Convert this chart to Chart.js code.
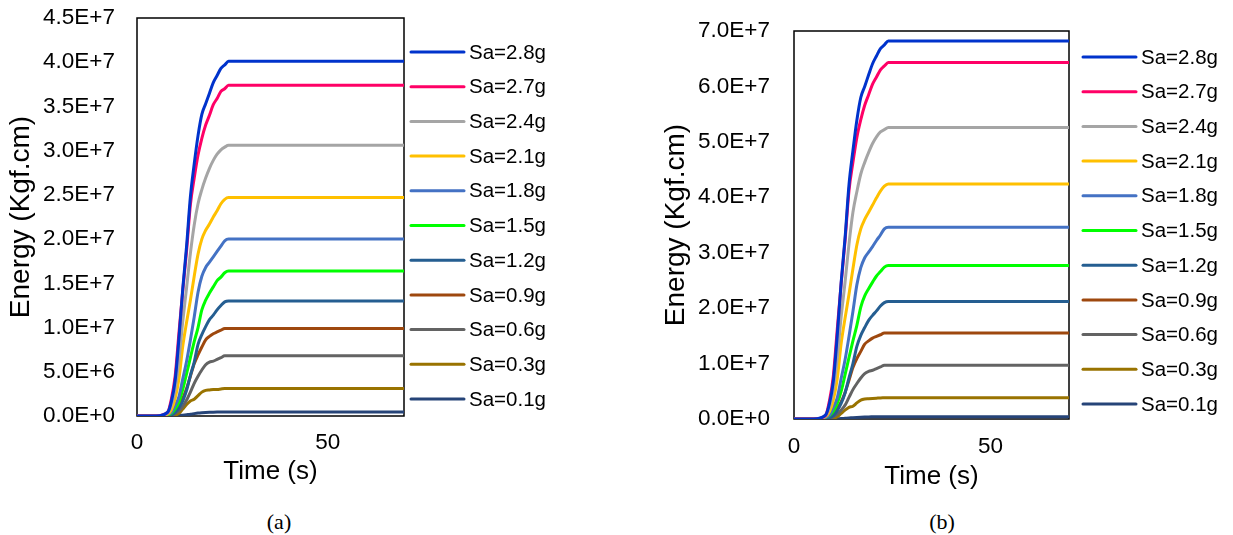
<!DOCTYPE html>
<html>
<head>
<meta charset="utf-8">
<script src="https://cdn.jsdelivr.net/npm/chart.js@4/dist/chart.umd.min.js"></script>
<style>
  body { margin: 0; background: #fff; width: 1233px; height: 535px; overflow: hidden; position: relative; }
  .box { position: absolute; top: 0; }
  #boxA { left: 0; width: 560px; height: 500px; }
  #boxB { left: 655px; width: 578px; height: 505px; }
  .cap { position: absolute; font-family: "Liberation Serif", "Times New Roman", serif; font-size: 22px; transform: translate(-50%, -50%); }
</style>
</head>
<body>
<div class="box" id="boxA"><canvas id="chartA"></canvas></div>
<div class="box" id="boxB"><canvas id="chartB"></canvas></div>
<div class="cap" style="left:279px; top:522px;">(a)</div>
<div class="cap" style="left:942px; top:522px;">(b)</div>
<script>
// time (s)
const time = [0, 5, 8, 9, 10, 11, 12, 13, 14, 15, 16, 17, 18, 19, 20, 21, 22, 23, 24, 70];

const labels = ["Sa=2.8g", "Sa=2.7g", "Sa=2.4g", "Sa=2.1g", "Sa=1.8g", "Sa=1.5g",
                "Sa=1.2g", "Sa=0.9g", "Sa=0.6g", "Sa=0.3g", "Sa=0.1g"];
const colors = ["#0033cc", "#ff0066", "#a5a5a5", "#ffc000", "#4472c4", "#00ff00",
                "#255e91", "#9e480e", "#636363", "#997300", "#264478"];

// energy, in millions of Kgf.cm -- chart (a)
const a28 = [0, 0, 0.4, 1.6, 4.0, 8.8, 14.4, 19.2, 24.8, 28.5, 31.7, 34.1, 35.3, 36.5, 37.7, 38.5, 39.3, 39.7, 40.1, 40.1];
const a27 = [0, 0, 0.4, 1.9, 4.5, 9.4, 14.2, 18.7, 23.9, 26.9, 29.5, 31.4, 32.9, 34.0, 35.2, 35.9, 36.7, 37.0, 37.4, 37.4];
const a24 = [0, 0, 0.3, 1.2, 3.0, 6.4, 10.7, 14.5, 18.4, 21.6, 24.0, 25.6, 26.9, 28.0, 28.9, 29.6, 30.1, 30.4, 30.6, 30.6];
const a21 = [0, 0, 0.2, 0.7, 2.0, 4.2, 7.9, 10.6, 13.1, 15.8, 18.3, 20.0, 21.0, 21.7, 22.5, 23.2, 24.0, 24.5, 24.7, 24.7];
const a18 = [0, 0, 0.2, 0.4, 1.2, 2.2, 4.2, 6.2, 8.6, 11.2, 14.0, 15.8, 16.8, 17.4, 18.0, 18.6, 19.2, 19.8, 20.0, 20.0];
const a15 = [0, 0, 0.1, 0.3, 0.8, 1.6, 3.0, 4.8, 6.6, 8.4, 10.0, 12.0, 13.1, 13.9, 14.6, 15.3, 15.7, 16.2, 16.4, 16.4];
const a12 = [0, 0, 0, 0.1, 0.4, 0.9, 1.7, 2.9, 4.6, 6.1, 8.1, 9.2, 10.1, 10.9, 11.4, 12.0, 12.5, 12.9, 13.0, 13.0];
const a09 = [0, 0, 0, 0.2, 0.6, 1.2, 2.0, 3.1, 4.5, 5.9, 6.9, 7.8, 8.6, 9.0, 9.3, 9.5, 9.7, 9.9, 9.9, 9.9];
const a06 = [0, 0, 0, 0.1, 0.3, 0.6, 1.1, 1.8, 2.7, 3.7, 4.5, 5.2, 5.8, 6.1, 6.2, 6.4, 6.6, 6.8, 6.8, 6.8];
const a03 = [0, 0, 0, 0.03, 0.1, 0.3, 0.8, 1.3, 1.7, 1.9, 2.3, 2.7, 2.9, 2.95, 3.0, 3.0, 3.05, 3.1, 3.1, 3.1];
const a01 = [0, 0, 0, 0, 0.02, 0.05, 0.1, 0.15, 0.2, 0.27, 0.33, 0.37, 0.4, 0.42, 0.43, 0.44, 0.45, 0.45, 0.45, 0.45];

// chart (b)
const b28 = [0, 0, 0.7, 2.7, 6.8, 15.0, 24.6, 32.7, 42.3, 48.4, 53.9, 58.0, 60.0, 62.1, 64.1, 65.5, 66.8, 67.5, 68.2, 68.2];
const b27 = [0, 0, 0.6, 3.2, 7.7, 16.1, 24.4, 32.2, 41.2, 46.3, 50.8, 54.0, 56.6, 58.5, 60.4, 61.7, 63.0, 63.7, 64.3, 64.3];
const b24 = [0, 0, 0.5, 2.1, 5.3, 11.0, 18.4, 24.7, 31.6, 37.3, 41.0, 44.2, 46.3, 48.1, 49.7, 50.9, 51.8, 52.2, 52.6, 52.6];
const b21 = [0, 0, 0.4, 1.3, 3.4, 7.2, 13.6, 18.2, 22.5, 27.1, 31.4, 34.3, 36.0, 37.3, 38.6, 39.9, 41.1, 42.0, 42.4, 42.4];
const b18 = [0, 0, 0.3, 0.7, 2.1, 3.8, 7.3, 10.7, 14.9, 19.4, 24.2, 27.3, 29.1, 30.1, 31.1, 32.2, 33.2, 34.3, 34.6, 34.6];
const b15 = [0, 0, 0.3, 0.6, 1.4, 2.8, 5.0, 8.0, 11.1, 14.1, 16.9, 20.2, 22.2, 23.5, 24.7, 25.8, 26.6, 27.4, 27.7, 27.7];
const b12 = [0, 0, 0, 0.2, 0.6, 1.5, 2.8, 4.7, 7.4, 10.0, 13.1, 15.1, 16.5, 17.8, 18.7, 19.5, 20.4, 21.0, 21.2, 21.2];
const b09 = [0, 0, 0, 0.3, 0.9, 1.9, 3.1, 4.8, 7.0, 9.3, 10.9, 12.2, 13.5, 14.1, 14.6, 14.9, 15.2, 15.5, 15.5, 15.5];
const b06 = [0, 0, 0, 0.1, 0.4, 0.9, 1.6, 2.5, 3.9, 5.3, 6.4, 7.4, 8.2, 8.6, 8.8, 9.1, 9.4, 9.7, 9.7, 9.7];
const b03 = [0, 0, 0, 0.04, 0.1, 0.4, 1.0, 1.6, 2.1, 2.3, 2.9, 3.4, 3.6, 3.65, 3.7, 3.75, 3.8, 3.82, 3.85, 3.85];
const b01 = [0, 0, 0, 0, 0.02, 0.04, 0.08, 0.13, 0.18, 0.24, 0.29, 0.33, 0.36, 0.38, 0.39, 0.4, 0.4, 0.4, 0.4, 0.4];

const seriesA = [a28, a27, a24, a21, a18, a15, a12, a09, a06, a03, a01];
const seriesB = [b28, b27, b24, b21, b18, b15, b12, b09, b06, b03, b01];

Chart.defaults.font.family = '"Liberation Sans", Arial, sans-serif';
Chart.defaults.color = "#000";

// black box round the plot area
const framePlugin = {
  id: "frame",
  beforeDatasetsDraw(chart) {
    const { ctx, chartArea: c } = chart;
    ctx.save();
    ctx.strokeStyle = "#000";
    ctx.lineWidth = 1.5;
    ctx.strokeRect(c.left, c.top, c.right - c.left, c.bottom - c.top);
    ctx.restore();
  },
};

// legend on the right, line + label
const sideLegend = {
  id: "sideLegend",
  afterDraw(chart, args, opts) {
    const { ctx, chartArea } = chart;
    ctx.save();
    ctx.font = '20.5px "Liberation Sans", Arial, sans-serif';
    ctx.textBaseline = "middle";
    ctx.fillStyle = "#000";
    chart.data.datasets.forEach((ds, i) => {
      const x = chartArea.right + opts.dx;
      const y = opts.top + i * opts.gap;
      ctx.strokeStyle = ds.borderColor;
      ctx.lineWidth = 3;
      ctx.lineCap = "round";
      ctx.beginPath();
      ctx.moveTo(x, y);
      ctx.lineTo(x + 53, y);
      ctx.stroke();
      ctx.fillText(ds.label, x + 58, y + 1);
    });
    ctx.restore();
  },
};

function makeChart(id, series, cfg) {
  return new Chart(document.getElementById(id), {
    type: "line",
    data: {
      datasets: series.map((vals, i) => ({
        label: labels[i],
        data: time.map((t, k) => ({ x: t, y: vals[k] })),
        borderColor: colors[i],
        backgroundColor: colors[i],
        borderWidth: 3,
        pointRadius: 0,
        cubicInterpolationMode: "monotone",
      })).reverse(),
    },
    options: {
      responsive: true,
      maintainAspectRatio: false,
      animation: false,
      layout: { padding: { top: cfg.padTop, right: cfg.padRight, left: 0, bottom: 0 } },
      plugins: {
        legend: { display: false },
        tooltip: { enabled: false },
        sideLegend: cfg.legend,
      },
      scales: {
        x: {
          type: "linear",
          min: 0,
          max: 70,
          grid: { display: false, drawTicks: false },
          border: { display: false },
          ticks: { stepSize: 50, includeBounds: false, padding: cfg.xPad, font: { size: 22.5 } },
          title: { display: true, text: "Time (s)", font: { size: 26 }, padding: { top: 0, bottom: 12.4 } },
          afterFit: (scale) => { scale.height = cfg.xHeight; },
        },
        y: {
          min: 0,
          max: cfg.yMax,
          grid: { display: false, drawTicks: false },
          border: { display: false },
          ticks: {
            stepSize: cfg.yStep,
            padding: cfg.yPad,
            font: { size: 22.5 },
            callback: (v) => (v * 1e6).toExponential(1).toUpperCase(),
          },
          title: { display: true, text: "Energy (Kgf.cm)", font: { size: 28 }, padding: { top: 4.2, bottom: 0 } },
          afterFit: (scale) => {
            scale.width = cfg.yWidth;
            // tick padding would otherwise push the plot top down
            scale.paddingTop = 0;
            scale.paddingBottom = 0;
          },
        },
      },
    },
    plugins: [framePlugin, sideLegend],
  });
}

// datasets reversed so the legend order comes back right below
function fixOrder(chart) {
  chart.data.datasets.reverse();
  chart.update();
}

const chartA = makeChart("chartA", seriesA, {
  padTop: 18, padRight: 156, xHeight: 84, xPad: 13.5, yWidth: 137, yPad: 22,
  yMax: 45, yStep: 5, legend: { dx: 7, top: 52, gap: 34.7 },
});
const chartB = makeChart("chartB", seriesB, {
  padTop: 31, padRight: 164, xHeight: 86, xPad: 14, yWidth: 139, yPad: 24,
  yMax: 70, yStep: 10, legend: { dx: 14, top: 57, gap: 34.7 },
});
fixOrder(chartA);
fixOrder(chartB);
</script>
</body>
</html>
